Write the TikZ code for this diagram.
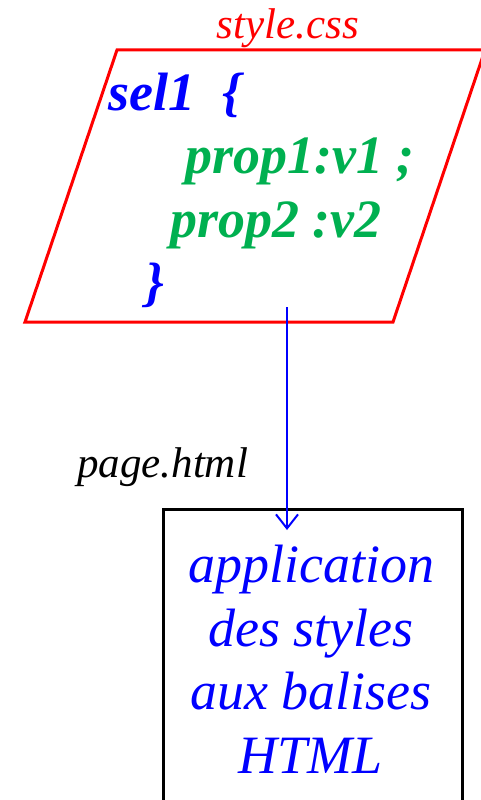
\documentclass[tikz,border=0pt]{standalone}
\usepackage{fontspec}
\setmainfont{Liberation Serif}
\usetikzlibrary{arrows.meta}
\definecolor{cssgreen}{RGB}{0,176,80}

\begin{document}
\begin{tikzpicture}[
	x=1pt,y=-1pt,
	every node/.style={inner sep=0pt},
	big/.style={font=\fontsize{54}{63.5}\selectfont\itshape},
	bigbold/.style={font=\fontsize{54}{63.5}\selectfont\bfseries\itshape},
	small/.style={font=\fontsize{43}{50}\selectfont\itshape}
	]
	\useasboundingbox (0,0) rectangle (481,800);
	% la feuille de style
	\coordinate (cssbl) at (25,322);
	\coordinate (csstl) at (117,50);
	\coordinate (csstr) at (485,50);
	\coordinate (cssbr) at (393,322);
	\draw[red, line width=3pt] (cssbl) -- (csstl) -- (csstr) -- (cssbr) -- cycle;
	\node[small, red, anchor=base] (cssname) at (288,38) {style.css};
	\node[bigbold, blue, anchor=base west] (sel) at (108,110) {sel1\ \ \{};
	\node[bigbold, cssgreen, anchor=base west] (prop1) at (185,173) {prop1:v1 ;};
	\node[bigbold, cssgreen, anchor=base west] (prop2) at (170,237) {prop2 :v2};
	\node[bigbold, blue, anchor=base west] (close) at (145,300) {\}};
	% la page
	\node[draw, line width=2.5pt, minimum width=299pt, minimum height=400pt, anchor=north west] (page) at (162,508) {};
	\node[small, anchor=base west] (pagename) at (77,477) {page.html};
	\node[big, blue, align=center, anchor=base] (apply) at (311,773) {application\\des styles\\aux balises\\HTML};
	% application
	\coordinate (from) at (287,307);
	\coordinate (to) at (287,530);
	\draw[blue, line width=2pt, -{Straight Barb[length=14pt,width=22pt]}] (from) -- (to);
\end{tikzpicture}
\end{document}
